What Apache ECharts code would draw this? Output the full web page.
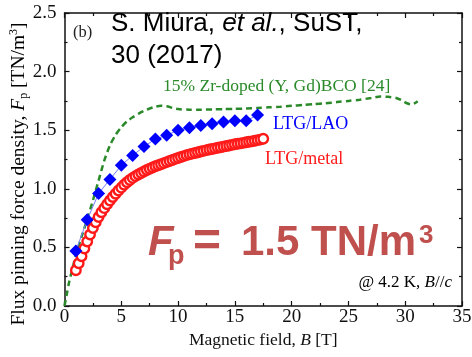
<!DOCTYPE html>
<html><head><meta charset="utf-8">
<script src="https://cdn.jsdelivr.net/npm/echarts@6/dist/echarts.min.js"></script>
<style>html,body{margin:0;padding:0;background:#fff}#c{width:472px;height:357px}</style>
</head><body><div id="c"></div>
<script>
// ---- data ----
const xTicks = [0,5,10,15,20,25,30,35];
const yTicks = ['0.0','0.5','1.0','1.5','2.0','2.5'];
// 15% Zr-doped (Y, Gd)BCO [24] (dashed)
const zrB  = [0,0.2,0.4,0.7,1.0,1.5,2.0,2.5,3.0,3.5,4.0,4.5,5.0,5.5,6.0,6.5,7.0,7.5,8.0,8.5,9.0,9.5,10,11,12,13,14,15,16,17,18,19,20,21,22,23,24,25,26,27,27.8,28.5,29.2,29.7,30.1,30.5,30.8,31.1];
const zrFp = [0,0.1,0.2,0.32,0.43,0.59,0.74,0.9,1.07,1.24,1.37,1.46,1.525,1.575,1.61,1.64,1.665,1.685,1.70,1.708,1.705,1.69,1.68,1.675,1.675,1.677,1.68,1.682,1.685,1.69,1.695,1.70,1.708,1.715,1.722,1.73,1.74,1.75,1.76,1.775,1.787,1.785,1.775,1.755,1.732,1.72,1.728,1.748];
// LTG/LAO (diamonds)
const laoB  = [1,2,3,4,5,6,7,8,9,10,11,12,13,14,15,16,17];
const laoFp = [0.47,0.735,0.96,1.08,1.2,1.285,1.36,1.425,1.457,1.5,1.52,1.54,1.555,1.57,1.58,1.58,1.63];
// LTG/metal (open circles)
const metB  = [1.0,1.25,1.5,1.75,2.0,2.25,2.5,2.75,3.0,3.25,3.5,3.75,4.0,4.25,4.5,4.75,5.0,5.25,5.5,5.75,6.0,6.25,6.5,6.75,7.0,7.25,7.5,7.75,8.0,8.25,8.5,8.75,9.0,9.25,9.5,9.75,10.0,10.25,10.5,10.75,11.0,11.25,11.5,11.75,12.0,12.25,12.5,12.75,13.0,13.25,13.5,13.75,14.0,14.25,14.5,14.75,15.0,15.25,15.5,15.75,16.0,16.25,16.5,16.75,17.0,17.25,17.5];
const metFp = [0.305,0.365,0.425,0.49,0.55,0.61,0.665,0.715,0.76,0.80,0.835,0.868,0.90,0.93,0.958,0.985,1.01,1.034,1.056,1.075,1.093,1.108,1.122,1.135,1.148,1.16,1.171,1.182,1.192,1.201,1.21,1.219,1.228,1.237,1.246,1.255,1.263,1.271,1.279,1.287,1.294,1.3,1.306,1.312,1.318,1.324,1.33,1.335,1.34,1.345,1.35,1.355,1.36,1.365,1.37,1.375,1.38,1.384,1.388,1.392,1.397,1.401,1.405,1.41,1.415,1.42,1.427];

const zip = (a,b) => a.map((v,i)=>[v,b[i]]);
const SERIF = '"Liberation Serif","Times New Roman",serif';
const SANS = '"Liberation Sans",Arial,sans-serif';

const axisCommon = {
  axisLine:{show:true,onZero:false,lineStyle:{color:'#111',width:1.5}},
  axisTick:{show:true,inside:true,length:5,lineStyle:{color:'#111',width:1.2}},
  minorTick:{show:true,splitNumber:2,length:3,lineStyle:{color:'#111',width:1.2}},
  splitLine:{show:false}
};

const chart = echarts.init(document.getElementById('c'), null, {renderer:'canvas'});
chart.setOption({
  animation:false,
  backgroundColor:'#fff',
  grid:{left:64.5,right:10,top:13,bottom:51,containLabel:false,outerBoundsMode:'none'},
  xAxis:[
    Object.assign({type:'value',min:xTicks[0],max:xTicks[xTicks.length-1],interval:5,position:'bottom',
      name:'{n|Magnetic field, }{i|B}{n| [T]}',nameLocation:'middle',nameGap:17,
      nameTextStyle:{rich:{n:{fontFamily:SERIF,fontSize:17.5,color:'#111'},i:{fontFamily:SERIF,fontStyle:'italic',fontSize:17.5,color:'#111'}}},
      axisLabel:{show:true,fontFamily:SERIF,fontSize:19,color:'#111',margin:2}}, axisCommon),
    Object.assign({type:'value',min:0,max:35,interval:5,position:'top',axisLabel:{show:false}}, axisCommon)
  ],
  yAxis:[
    Object.assign({type:'value',min:0,max:2.5,interval:0.5,position:'left',
      axisLabel:{show:true,fontFamily:SERIF,fontSize:19,color:'#111',margin:8,formatter:v=>yTicks[Math.round(v/0.5)]}}, axisCommon),
    Object.assign({type:'value',min:0,max:2.5,interval:0.5,position:'right',axisLabel:{show:false}}, axisCommon)
  ],
  series:[
    {name:'15% Zr-doped (Y, Gd)BCO [24]',type:'line',data:zip(zrB,zrFp),showSymbol:false,smooth:0.25,
      lineStyle:{color:'#2a8a2a',width:2.5,type:[6,4]},z:2},
    {name:'LTG/metal',type:'scatter',data:zip(metB,metFp),symbol:'circle',symbolSize:9.5,
      itemStyle:{color:'#ffffff',borderColor:'#ff1a1a',borderWidth:2.4,opacity:1},z:3},
    {name:'LTG/LAO',type:'line',data:zip(laoB,laoFp),symbol:'diamond',symbolSize:13,showSymbol:true,
      lineStyle:{color:'#7a7aff',width:1},itemStyle:{color:'#0000ff',borderWidth:0},z:4}
  ],
  graphic:[
    {type:'text',x:19,y:174,rotation:Math.PI/2,z:10,style:{
      text:'{n|Flux pinning force density, }{i|F}{sub|p}{n| [TN/m}{sup|3}{n|]}',align:'center',verticalAlign:'middle',
      rich:{
        n:{fontFamily:SERIF,fontSize:19.5,color:'#111'},
        i:{fontFamily:SERIF,fontStyle:'italic',fontSize:19.5,color:'#111'},
        sub:{fontFamily:SERIF,fontSize:12,color:'#111',padding:[10,0,0,0]},
        sup:{fontFamily:SERIF,fontSize:12,color:'#111',padding:[0,0,10,0]}}}},
    {type:'text',x:73,y:33,z:10,style:{text:'(b)',font:'16.5px '+SERIF,fill:'#222',verticalAlign:'middle'}},
    {type:'text',x:111,y:24,z:10,style:{text:'{a|S. Miura, }{b|et al.}{a|, SuST,}',verticalAlign:'middle',
      rich:{a:{fontFamily:SANS,fontSize:26,color:'#000'},b:{fontFamily:SANS,fontSize:26,fontStyle:'italic',color:'#000'}}}},
    {type:'text',x:111,y:56,z:10,style:{text:'30 (2017)',font:'26px '+SANS,fill:'#000',verticalAlign:'middle'}},
    {type:'text',x:163,y:86,z:10,style:{text:'15% Zr-doped (Y, Gd)BCO [24]',font:'17.5px '+SERIF,fill:'#2a8a2a',verticalAlign:'middle'}},
    {type:'text',x:273,y:124,z:10,style:{text:'LTG/LAO',font:'18px '+SERIF,fill:'#0000ff',verticalAlign:'middle'}},
    {type:'text',x:265,y:159,z:10,style:{text:'LTG/metal',font:'18px '+SERIF,fill:'#ff1a1a',verticalAlign:'middle'}},
    {type:'text',x:148,y:243,z:10,style:{text:'F',font:'italic bold 42px '+SANS,fill:'#c0504d',verticalAlign:'middle'}},
    {type:'text',x:168,y:257,z:10,style:{text:'p',font:'bold 27px '+SANS,fill:'#c0504d',verticalAlign:'middle'}},
    {type:'text',x:193,y:243,z:10,style:{text:'=',font:'bold 48px '+SANS,fill:'#c0504d',verticalAlign:'middle'}},
    {type:'text',x:241,y:243,z:10,style:{text:'1.5 TN/m',font:'bold 42px '+SANS,fill:'#c0504d',verticalAlign:'middle'}},
    {type:'text',x:419,y:236,z:10,style:{text:'3',font:'bold 26px '+SANS,fill:'#c0504d',verticalAlign:'middle'}},
    {type:'text',x:452,y:283,z:10,style:{text:'{n|@ 4.2 K, }{i|B}{n|//}{i|c}',align:'right',verticalAlign:'middle',
      rich:{n:{fontFamily:SERIF,fontSize:17,color:'#222'},i:{fontFamily:SERIF,fontSize:17,fontStyle:'italic',color:'#222'}}}}
  ]
});
</script></body></html>
